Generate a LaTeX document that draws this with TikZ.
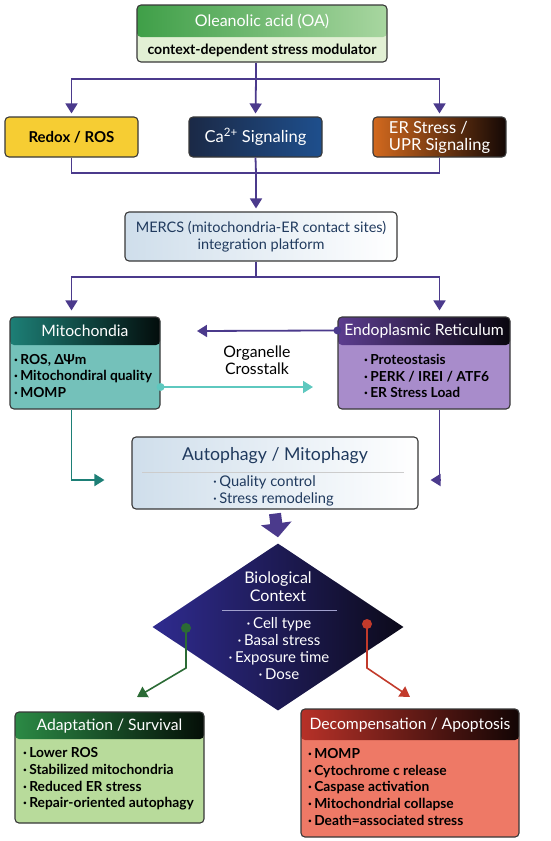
\documentclass[tikz,border=0pt]{standalone}
\usepackage{fontspec}
\setmainfont{Lato}
\usetikzlibrary{arrows.meta,shapes.geometric}

\definecolor{flow}{HTML}{4B3A8C}
\definecolor{ink}{HTML}{203A5E}
\definecolor{oahead}{HTML}{3F9F48}
\definecolor{oalight}{HTML}{A8D6A0}
\definecolor{oabody}{HTML}{E2F0D4}
\definecolor{redoxfill}{HTML}{F6CD33}
\definecolor{caL}{HTML}{1B2946}
\definecolor{caR}{HTML}{1E4F8D}
\definecolor{ersL}{HTML}{D2691E}
\definecolor{ersR}{HTML}{140805}
\definecolor{paleL}{HTML}{CFDEEB}
\definecolor{mitoH}{HTML}{1D7F76}
\definecolor{mitobody}{HTML}{74C1BA}
\definecolor{erH}{HTML}{5C3D8F}
\definecolor{erbody}{HTML}{A88CCB}
\definecolor{xteal}{HTML}{5EC8BF}
\definecolor{diaL}{HTML}{2F2B8F}
\definecolor{diaR}{HTML}{0C0A1A}
\definecolor{okgreen}{HTML}{2B6B35}
\definecolor{badred}{HTML}{C23A2B}
\definecolor{adH}{HTML}{2B8A45}
\definecolor{adbody}{HTML}{B8DB9B}
\definecolor{dcH}{HTML}{B73128}
\definecolor{dcbody}{HTML}{EE7966}

\begin{document}
\begin{tikzpicture}[x=1pt, y=-1pt,
  panel/.style={draw=black!78, line width=1.1pt, rounded corners=4pt, inner sep=0pt},
  headfill/.style n args={3}{path picture={
    \shade[left color=#1, right color=#2] (path picture bounding box.north west)
      rectangle ([yshift=-#3]path picture bounding box.north east);}},
  headtxt/.style={text=white, font=\fontsize{15.7}{18}\selectfont},
  bul/.style={align=left, anchor=west, inner sep=0pt, font=\bfseries\fontsize{13.8}{16.6}\selectfont},
  flowline/.style={draw=flow, line width=1.8pt},
  flowarr/.style={flowline, -{Triangle[width=12pt,length=10pt]}},
]
\useasboundingbox (0,0) rectangle (550,841);

% top: the compound
\node[panel, fill=oabody, minimum width=250pt, minimum height=57pt,
      path picture={\shade[left color=oahead, middle color=oahead!90!white, right color=oalight]
        (path picture bounding box.north west) rectangle ([yshift=-32pt]path picture bounding box.north east);}]
      (oa) at (262,33.5) {};
\node[headtxt, font=\fontsize{16}{18}\selectfont] (oaT) at (262,21) {Oleanolic acid (OA)};
\node[font=\bfseries\fontsize{14.1}{16}\selectfont] (oaS) at (262,50) {context-dependent stress modulator};

% three stress inputs
\node[panel, fill=redoxfill, minimum width=133pt, minimum height=40pt,
      font=\bfseries\fontsize{15}{17}\selectfont] (redox) at (71.5,137) {Redox / ROS};
\node[panel, left color=caL, right color=caR, minimum width=133pt, minimum height=40pt,
      text=white, font=\fontsize{16.5}{18}\selectfont] (ca) at (255.5,137) {Ca\textsuperscript{2+} Signaling};
\node[panel, left color=ersL, right color=ersR, minimum width=133pt, minimum height=40pt,
      text=white, align=left, font=\fontsize{16.5}{17}\selectfont] (ers) at (439.5,137) {ER Stress /\\UPR Signaling};

\coordinate (s1) at (256,79);
\draw[flowline] (oa.south -| s1) -- (s1);
\draw[flowarr, shorten >=3pt] (s1) -| (redox.north);
\draw[flowarr, shorten >=3pt] (s1) -- (ca.north);
\draw[flowarr, shorten >=3pt] (s1) -| (ers.north);

% MERCS
\node[panel, left color=paleL, right color=white, minimum width=272pt, minimum height=49pt,
      text=ink, align=center, font=\fontsize{14.5}{17.5}\selectfont] (mercs) at (261,236.5)
      {MERCS (mitochondria-ER contact sites)\\integration platform};

\coordinate (s2) at (256,173);
\draw[flowline] (redox.south) |- (s2) -| (ers.south);
\draw[flowline] (ca.south) -- (s2);
\draw[flowarr, shorten >=3pt] (s2) -- (mercs.north -| s2);

% organelles
\node[panel, fill=mitobody, minimum width=150pt, minimum height=92pt,
      headfill={mitoH}{black!90!mitoH}{28pt}] (mito) at (85,363) {};
\node[headtxt] (mitoT) at (85,331) {Mitochondia};
\node[bul] (mitoB) at (14,376) {\textperiodcentered\,ROS, ΔΨm\\
  \textperiodcentered\,Mitochondiral quality\\\textperiodcentered\,MOMP};

\node[panel, fill=erbody, minimum width=172pt, minimum height=92pt,
      headfill={erH}{black!90!erH}{28pt}] (erb) at (424,363) {};
\node[headtxt] (erbT) at (424,331) {Endoplasmic Reticulum};
\node[bul] (erbB) at (364,376) {\textperiodcentered\,Proteostasis\\
  \textperiodcentered\,PERK / IREI / ATF6\\\textperiodcentered\,ER Stress Load};

\coordinate (s3) at (256,277);
\draw[flowline] (mercs.south -| s3) -- (s3);
\draw[flowarr, shorten >=6pt] (s3) -| (mito.north -| redox.south);
\draw[flowarr, shorten >=6pt] (s3) -| (erb.north -| ers.south);

% crosstalk
\coordinate (xtR) at ([yshift=-14pt]erb.north west);
\coordinate (xtL) at (197,331);
\draw[flowarr] (xtR) -- (xtL);
\fill[flow] (xtR) circle (4pt);
\coordinate (xmL) at ([yshift=-24pt]mito.east);
\coordinate (xmR) at (313,387);
\draw[draw=xteal, line width=1.8pt, -{Triangle[width=12pt,length=10pt]}] (xmL) -- (xmR);
\fill[xteal] (xmL) circle (4pt);
\node[align=center, font=\fontsize{15.8}{16.5}\selectfont] (xtalk) at (257,360) {Organelle\\Crosstalk};

% autophagy
\node[panel, left color=paleL, right color=white, minimum width=286pt, minimum height=72pt] (auto) at (275,473) {};
\node[text=ink, font=\fontsize{17.7}{20}\selectfont] (autoT) at (275,456) {Autophagy / Mitophagy};
\draw[black!20, line width=0.6pt] ([xshift=-133pt,yshift=1pt]auto.center) -- ([xshift=129pt,yshift=1pt]auto.center);
\node[bul, text=ink, font=\fontsize{14.7}{17}\selectfont] (autoB) at (213,490.5)
  {\textperiodcentered\,Quality control\\\textperiodcentered\,Stress remodeling};

\draw[draw=mitoH, line width=1.8pt, -{Triangle[width=12pt,length=10pt]}]
  (mito.south -| redox.south) |- ([xshift=-27pt,yshift=-7pt]auto.west);
\draw[flowarr] (erb.south -| ers.south) |- ([xshift=12pt,yshift=-7pt]auto.east);

% context diamond
\node[diamond, minimum width=251pt, minimum height=167pt, inner sep=0pt,
      left color=diaL, right color=diaR] (dia) at (278,627) {};
\draw[flow, line width=12pt, -{Triangle[width=30pt,length=14pt]}] ([yshift=-4pt]auto.south) -- ([yshift=6pt]dia.north);
\node[text=white, align=center, font=\fontsize{16}{18}\selectfont] (diaT) at (278,587) {Biological\\Context};
\draw[white!55!diaL, line width=0.6pt] ([xshift=-56pt,yshift=17pt]dia.center) -- ([xshift=59pt,yshift=17pt]dia.center);
\node[text=white, align=center, inner sep=0pt, font=\fontsize{15}{17}\selectfont] (diaB) at (279,648.5)
  {\textperiodcentered\,Cell type\\\textperiodcentered\,Basal stress\\
   \textperiodcentered\,Exposure time\\\textperiodcentered\,Dose};

\coordinate (gdot) at (186,628);
\coordinate (gbend) at (186,668);
\coordinate (gtip) at (137,697);
\draw[okgreen, line width=1.6pt, -{Triangle[width=12pt,length=10pt]}] (gdot) -- (gbend) -- (gtip);
\fill[okgreen] (gdot) circle (5pt);
\coordinate (rdot) at (367,624);
\coordinate (rbend) at (367,668);
\coordinate (rtip) at (410,697);
\draw[badred, line width=1.6pt, -{Triangle[width=12pt,length=10pt]}] (rdot) -- (rbend) -- (rtip);
\fill[badred] (rdot) circle (5pt);

% outcomes
\node[panel, fill=adbody, minimum width=189pt, minimum height=111pt,
      headfill={adH}{black!90!adH}{27pt}] (adapt) at (109.5,767.5) {};
\node[headtxt] (adT) at (109.5,726) {Adaptation / Survival};
\node[bul] (adB) at (23,779) {\textperiodcentered\,Lower ROS\\
  \textperiodcentered\,Stabilized mitochondria\\\textperiodcentered\,Reduced ER stress\\
  \textperiodcentered\,Repair-oriented autophagy};

\node[panel, fill=dcbody, minimum width=218pt, minimum height=128pt,
      headfill={dcH}{black!90!dcH}{31pt}] (decomp) at (410,773) {};
\node[headtxt] (dcT) at (410,725) {Decompensation / Apoptosis};
\node[bul] (dcB) at (308,787) {\textperiodcentered\,MOMP\\
  \textperiodcentered\,Cytochrome c release\\\textperiodcentered\,Caspase activation\\
  \textperiodcentered\,Mitochondrial collapse\\\textperiodcentered\,Death=associated stress};

\end{tikzpicture}
\end{document}
